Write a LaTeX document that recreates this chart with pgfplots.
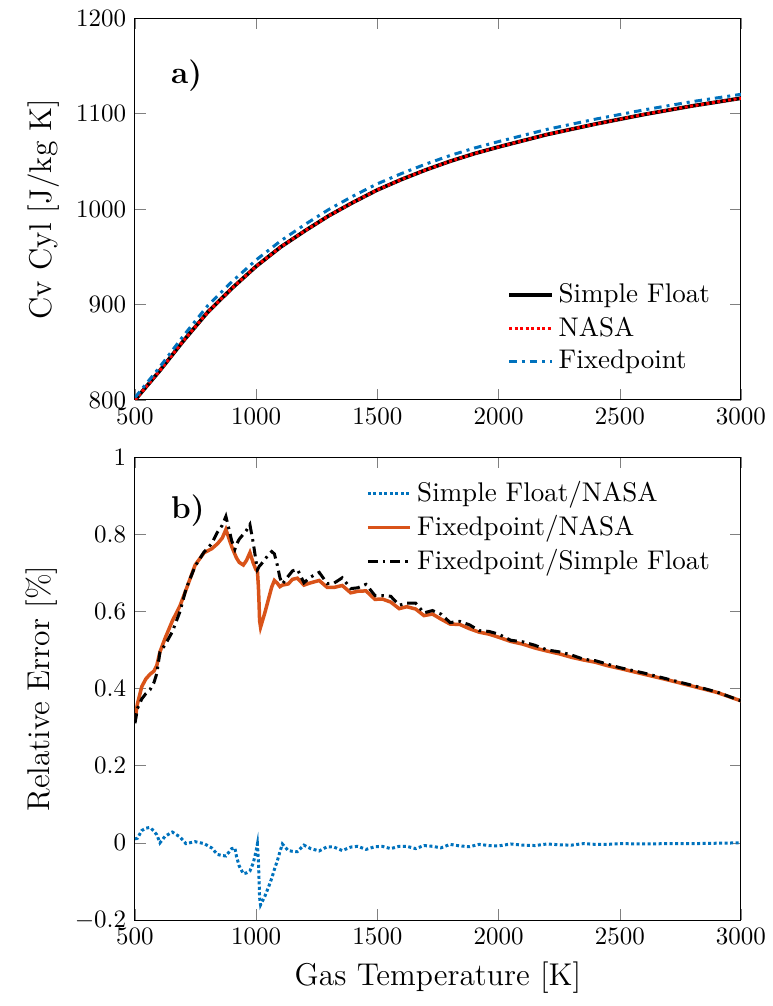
\documentclass[border=0pt]{standalone}
\usepackage{pgfplots}
\pgfplotsset{compat=1.18}
\usepackage{pgfplotstable}
\definecolor{mblue}{RGB}{0,114,189}
\definecolor{morange}{RGB}{217,83,25}

\pgfplotstableread{
T     s      n      f
500   800    800    802.6
600   830    830    833.8
700   862    862    867.3
800   892    892    898.8
900   917    917    923.9
1000  940    940    946.7
1100  960    960    966.4
1200  977    977    983.6
1300  993    993    999.6
1400  1007   1007   1013.6
1500  1020   1020   1026.4
1600  1031   1031   1037.2
1700  1041   1041   1047.1
1800  1050   1050   1056.0
1900  1058   1058   1063.8
2000  1065   1065   1070.6
2200  1078   1078   1083.4
2400  1089   1089   1094.1
2600  1099   1099   1103.8
2800  1108   1108   1112.5
3000  1116   1116   1120.1
}\cvtable

\pgfplotstableread{
T     b       o      k
500   0.010   0.320  0.310
510   0.012   0.360  0.348
528   0.032   0.405  0.373
545   0.038   0.425  0.387
562   0.040   0.437  0.397
578   0.030   0.445  0.415
590   0.021   0.460  0.439
603   0.000   0.495  0.495
624   0.017   0.530  0.513
654   0.028   0.575  0.547
686   0.015   0.615  0.600
710  -0.002   0.655  0.657
748   0.003   0.720  0.717
785  -0.002   0.752  0.754
816  -0.013   0.762  0.775
840  -0.030   0.775  0.805
860  -0.033   0.790  0.823
875  -0.034   0.812  0.846
899  -0.015   0.768  0.783
912  -0.013   0.748  0.761
919  -0.036   0.738  0.774
930  -0.060   0.727  0.787
947  -0.080   0.720  0.800
960  -0.078   0.732  0.810
974  -0.073   0.752  0.825
988  -0.052   0.725  0.777
999  -0.023   0.708  0.731
1005 -0.003   0.705  0.708
1009 -0.047   0.665  0.712
1012 -0.099   0.617  0.716
1014 -0.142   0.576  0.718
1018 -0.161   0.559  0.720
1036 -0.138   0.597  0.735
1050 -0.116   0.630  0.746
1064 -0.092   0.663  0.755
1075 -0.069   0.680  0.749
1087 -0.047   0.673  0.720
1098 -0.023   0.664  0.687
1108 -0.003   0.668  0.671
1132 -0.020   0.671  0.691
1150 -0.022   0.683  0.705
1170 -0.023   0.686  0.709
1197 -0.006   0.668  0.674
1225 -0.015   0.674  0.689
1260 -0.021   0.680  0.701
1293 -0.010   0.662  0.672
1321 -0.011   0.662  0.673
1355 -0.020   0.667  0.687
1390 -0.011   0.648  0.659
1419 -0.009   0.652  0.661
1453 -0.017   0.653  0.670
1490 -0.010   0.631  0.641
1520 -0.009   0.632  0.641
1555 -0.015   0.624  0.639
1590 -0.009   0.607  0.616
1621 -0.009   0.612  0.621
1658 -0.015   0.606  0.621
1692 -0.007   0.589  0.596
1727 -0.009   0.593  0.602
1762 -0.013   0.580  0.593
1800 -0.004   0.567  0.571
1840 -0.008   0.566  0.574
1880 -0.010   0.555  0.565
1920 -0.004   0.546  0.550
1960 -0.007   0.541  0.548
2000 -0.008   0.533  0.541
2050 -0.003   0.522  0.525
2100 -0.006   0.515  0.521
2150 -0.007   0.505  0.512
2200 -0.003   0.497  0.500
2250 -0.005   0.490  0.495
2300 -0.006   0.481  0.487
2350 -0.002   0.474  0.476
2400 -0.004   0.468  0.472
2450 -0.004   0.459  0.463
2500 -0.002   0.452  0.454
2600 -0.003   0.437  0.440
2700 -0.002   0.422  0.424
2800 -0.002   0.406  0.408
2900 -0.001   0.390  0.391
3000  0.000   0.368  0.368
}\errtable

\begin{document}
\begin{tikzpicture}
\path[use as bounding box] (-54pt,7.2pt) rectangle (255.2pt,-395.2pt);
\pgfplotsset{
  every axis/.append style={
    scale only axis,
    width=242.4pt,
    xmin=500, xmax=3000,
    xtick={500,1000,...,3000},
    /pgf/number format/set thousands separator={},
    tick label style={font=\normalsize},
    label style={font=\fontsize{12.6}{15}\selectfont},
    legend style={draw=none, fill=none, font=\fontsize{10.8}{13}\selectfont,
      row sep=0pt, cells={anchor=west}},
    legend cell align=left,
  },
}
\begin{axis}[
  at={(0,0)}, anchor=north west,
  height=152.8pt,
  ymin=800, ymax=1200,
  ytick={800,900,...,1200},
  ylabel={Cv Cyl [J/kg K]},
  legend style={at={(0.97,0.045)}, anchor=south east},
]
\addplot[black, line width=1.5pt] table[x=T, y=s] {\cvtable};
\addlegendentry{Simple Float}
\addplot[red, line width=1.2pt, densely dotted] table[x=T, y=n] {\cvtable};
\addlegendentry{NASA}
\addplot[mblue, line width=1.2pt, dashdotted] table[x=T, y=f] {\cvtable};
\addlegendentry{Fixedpoint}
\node[anchor=west, font=\fontsize{12.6}{15}\selectfont\bfseries] at (rel axis cs:0.045,0.85) {a)};
\end{axis}
\begin{axis}[
  at={(0,-175.6pt)}, anchor=north west,
  height=185.2pt,
  ymin=-0.2, ymax=1,
  ytick={-0.2,0,0.2,...,1},
  ylabel={Relative Error [\%]},
  xlabel={Gas Temperature [K]},
  legend style={at={(0.97,0.97)}, anchor=north east},
]
\addplot[mblue, line width=1.2pt, densely dotted] table[x=T, y=b] {\errtable};
\addlegendentry{Simple Float/NASA}
\addplot[morange, line width=1.4pt] table[x=T, y=o] {\errtable};
\addlegendentry{Fixedpoint/NASA}
\addplot[black, line width=1.2pt, dash pattern=on 4pt off 2pt on 1pt off 2pt] table[x=T, y=k] {\errtable};
\addlegendentry{Fixedpoint/Simple Float}
\node[anchor=west, font=\fontsize{12.6}{15}\selectfont\bfseries] at (rel axis cs:0.045,0.885) {b)};
\end{axis}
\end{tikzpicture}
\end{document}
